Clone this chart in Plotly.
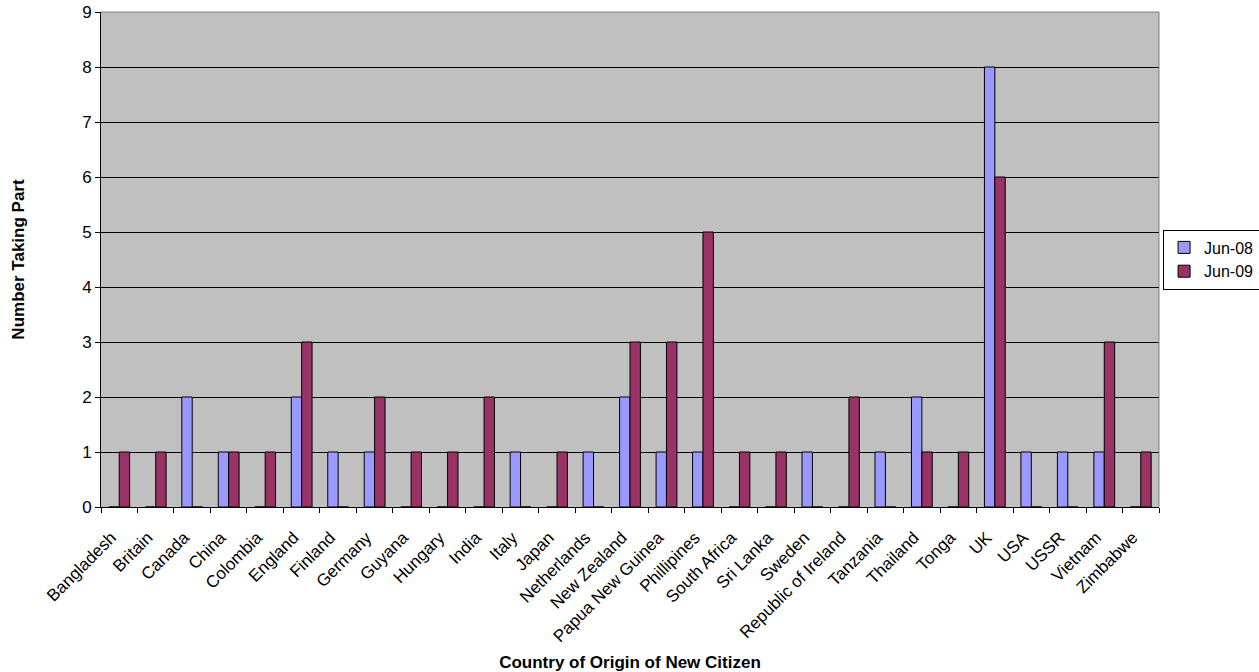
import plotly.graph_objects as go

countries = ["Bangladesh", "Britain", "Canada", "China", "Colombia", "England", "Finland",
             "Germany", "Guyana", "Hungary", "India", "Italy", "Japan", "Netherlands",
             "New Zealand", "Papua New Guinea", "Phillipines", "South Africa", "Sri Lanka",
             "Sweden", "Republic of Ireland", "Tanzania", "Thailand", "Tonga", "UK", "USA",
             "USSR", "Vietnam", "Zimbabwe"]
jun08 = [0, 0, 2, 1, 0, 2, 1, 1, 0, 0, 0, 1, 0, 1, 2, 1, 1, 0, 0, 1, 0, 1, 2, 0, 8, 1, 1, 1, 0]
jun09 = [1, 1, 0, 1, 1, 3, 0, 2, 1, 1, 2, 0, 1, 0, 3, 3, 5, 1, 1, 0, 2, 0, 1, 1, 6, 0, 0, 3, 1]
y_ticks = list(range(0, 10))

FONT = "Liberation Sans, Arial, sans-serif"

fig = go.Figure()
fig.add_trace(go.Bar(name="Jun-08", x=countries, y=jun08,
                     marker=dict(color="#9999FF", line=dict(color="#000000", width=1))))
fig.add_trace(go.Bar(name="Jun-09", x=countries, y=jun09,
                     marker=dict(color="#993366", line=dict(color="#000000", width=1))))

fig.update_layout(
    width=1259, height=672,
    margin=dict(l=101, r=100, t=12, b=165),
    paper_bgcolor="white",
    plot_bgcolor="#C0C0C0",
    barmode="group",
    bargap=0.43,
    bargroupgap=0,
    font=dict(family=FONT, size=17, color="black"),
    showlegend=True,
    legend=dict(xref="container", x=0.9238, y=0.5, xanchor="left", yanchor="middle",
                bgcolor="white", bordercolor="black", borderwidth=1,
                font=dict(family=FONT, size=16), tracegroupgap=0,
                itemwidth=30),
    xaxis=dict(
        type="category",
        tickangle=-45,
        ticks="outside", ticklen=5, tickcolor="black", tickwidth=1,
        tickson="boundaries",
        ticklabelstandoff=13,
        ticklabelshift=-8,
        showline=True, linecolor="black", linewidth=1,
        showgrid=False,
        tickfont=dict(family=FONT, size=17),
        title=dict(text="<b>Country of Origin of New Citizen</b>",
                   font=dict(family=FONT, size=17), standoff=11),
        automargin=False,
    ),
    yaxis=dict(
        range=[0, 9],
        tickvals=y_ticks,
        ticks="outside", ticklen=5, tickcolor="black", tickwidth=1,
        showline=True, linecolor="black", linewidth=1,
        showgrid=True, gridcolor="black", gridwidth=1,
        zeroline=False,
        tickfont=dict(family=FONT, size=17),
        title=dict(text="<b>Number Taking Part</b>",
                   font=dict(family=FONT, size=17), standoff=53),
        automargin=False,
    ),
)

# gray plot-area border on top and right
fig.add_shape(type="line", xref="paper", yref="paper", x0=0, x1=1, y0=1, y1=1,
              line=dict(color="#808080", width=1))
fig.add_shape(type="line", xref="paper", yref="paper", x0=1, x1=1, y0=0, y1=1,
              line=dict(color="#808080", width=1))

fig.write_html("out.html")
